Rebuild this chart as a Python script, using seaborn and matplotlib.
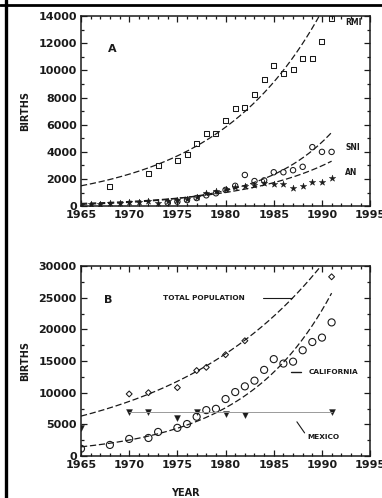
import numpy as np
import pandas as pd
import matplotlib
matplotlib.use("Agg")
import matplotlib.pyplot as plt
import seaborn as sns
from matplotlib.lines import Line2D
from matplotlib.ticker import MultipleLocator

# ---------------- Panel A data ----------------
rmi_years = [1968, 1972, 1973, 1975, 1976, 1977, 1978, 1979, 1980, 1981, 1982,
             1983, 1984, 1985, 1986, 1987, 1988, 1989, 1990, 1991]
rmi_births = [1450, 2400, 3000, 3400, 3800, 4600, 5350, 5350, 6300, 7200, 7300,
              8250, 9300, 10400, 9800, 10050, 10900, 10900, 12100, 13800]

sni_years = [1974, 1975, 1976, 1977, 1978, 1979, 1980, 1981, 1982, 1983, 1984,
             1985, 1986, 1987, 1988, 1989, 1990, 1991]
sni_births = [250, 330, 450, 600, 800, 950, 1200, 1500, 2300, 1850, 1900,
              2500, 2500, 2650, 2900, 4350, 4000, 4000]

an_years = [1965, 1966, 1967, 1968, 1969, 1970, 1971, 1972, 1973, 1974, 1975,
            1976, 1977, 1978, 1979, 1980, 1981, 1982, 1983, 1984, 1985, 1986,
            1987, 1988, 1989, 1990, 1991]
an_births = [80, 150, 180, 220, 260, 300, 320, 380, 200, 400, 450,
             560, 700, 950, 1100, 1300, 1400, 1450, 1550, 1700, 1650, 1620,
             1350, 1500, 1780, 1770, 2100]

# fitted exponential curves (value at 1965, yearly growth rate)
rmi_fit = (1500, 0.0904)
sni_fit = (139, 0.141)
an_fit = (200, 0.108)

# ---------------- Panel B data ----------------
total_years = [1970, 1972, 1975, 1977, 1978, 1980, 1982, 1991]
total_births = [9800, 10000, 10800, 13500, 14000, 16000, 18200, 28300]

cal_years = [1965, 1968, 1970, 1972, 1973, 1975, 1976, 1977, 1978, 1979, 1980,
             1981, 1982, 1983, 1984, 1985, 1986, 1987, 1988, 1989, 1990, 1991]
cal_births = [1150, 1750, 2700, 2850, 3800, 4450, 5050, 6200, 7250, 7450, 9000,
              10100, 11000, 11900, 13600, 15300, 14600, 14900, 16700, 18000, 18700, 21100]

mex_years = [1965, 1970, 1972, 1975, 1977, 1980, 1982, 1991]
mex_births = [4400, 7000, 7000, 6000, 7000, 6700, 6500, 7000]
mex_level = 6950

total_fit = (6300, 0.0627)
cal_fit = (1450, 0.1106)

x_ticks = [1965, 1970, 1975, 1980, 1985, 1990, 1995]
yA_ticks = [0, 2000, 4000, 6000, 8000, 10000, 12000, 14000]
yB_ticks = [0, 5000, 10000, 15000, 20000, 25000, 30000]

# ---------------- style ----------------
sns.set_style("ticks")
plt.rcParams['font.family'] = ['DejaVu Sans']
plt.rcParams['font.weight'] = 'bold'
INK = '#1a1a1a'

fig = plt.figure(figsize=(3.82, 4.98), dpi=100)
axA = fig.add_axes([0.212, 0.586, 0.757, 0.3815])
axB = fig.add_axes([0.212, 0.0843, 0.757, 0.3815])

fit_years = np.linspace(1965, 1991, 200)
dash = (0, (5, 2.2))


def curve(ax, fit, end=1991):
    yrs = fit_years[fit_years <= end]
    vals = fit[0] * np.exp(fit[1] * (yrs - 1965))
    sns.lineplot(x=yrs, y=vals, ax=ax, color=INK, linewidth=0.9,
                 linestyle=dash, sort=False, estimator=None)


def style_axis(ax, yticks, yminor):
    ax.set_xlim(1965, 1995)
    ax.set_ylim(yticks[0], yticks[-1])
    ax.set_xticks(x_ticks)
    ax.set_yticks(yticks)
    ax.xaxis.set_minor_locator(MultipleLocator(1))
    ax.yaxis.set_minor_locator(MultipleLocator(yminor))
    ax.tick_params(which='both', direction='in', top=True, right=True,
                   colors=INK, labelsize=8, width=0.9)
    ax.tick_params(which='major', length=4, pad=3)
    ax.tick_params(which='minor', length=2)
    for lab in ax.get_xticklabels() + ax.get_yticklabels():
        lab.set_fontweight('bold')
    for sp in ax.spines.values():
        sp.set_visible(True)
        sp.set_linewidth(1.1)
        sp.set_color(INK)
    ax.set_xlabel('')
    ax.set_ylabel('BIRTHS', fontsize=7, fontweight='bold', color=INK)
    ax.yaxis.set_label_coords(-0.175, 0.5)


# ---------------- Panel A ----------------
curve(axA, rmi_fit)
curve(axA, sni_fit)
curve(axA, an_fit)
sns.scatterplot(x=rmi_years, y=rmi_births, ax=axA, marker='s', s=13,
                facecolor='none', edgecolor=INK, linewidth=0.75)
sns.scatterplot(x=sni_years, y=sni_births, ax=axA, marker='o', s=15,
                facecolor='none', edgecolor=INK, linewidth=0.75)
sns.scatterplot(x=an_years, y=an_births, ax=axA, marker='*', s=24,
                color=INK, edgecolor=INK, linewidth=0.3)
style_axis(axA, yA_ticks, 1000)
axA.text(1968.2, 11600, 'A', fontsize=8, fontweight='bold', color=INK,
         ha='center', va='center')
axA.text(1992.4, 13500, 'RMI', fontsize=5.5, fontweight='bold', color=INK, va='center')
axA.text(1992.4, 4350, 'SNI', fontsize=5.5, fontweight='bold', color=INK, va='center')
axA.text(1992.4, 2450, 'AN', fontsize=5.5, fontweight='bold', color=INK, va='center')

# ---------------- Panel B ----------------
curve(axB, total_fit)
curve(axB, cal_fit)
sns.lineplot(x=[1970, 1991], y=[mex_level, mex_level], ax=axB, color='#9a9a9a',
             linewidth=0.7)
sns.scatterplot(x=total_years, y=total_births, ax=axB, marker='D', s=9,
                facecolor='none', edgecolor=INK, linewidth=0.75)
sns.scatterplot(x=cal_years, y=cal_births, ax=axB, marker='o', s=26,
                facecolor='none', edgecolor=INK, linewidth=0.8)
sns.scatterplot(x=mex_years, y=mex_births, ax=axB, marker='v', s=18,
                color=INK, edgecolor=INK, linewidth=0.3)
style_axis(axB, yB_ticks, 2500)
axB.set_xlabel('YEAR', fontsize=7, fontweight='bold', color=INK)
axB.xaxis.set_label_coords(0.36, -0.17)
axB.text(1967.8, 24600, 'B', fontsize=8, fontweight='bold', color=INK,
         ha='center', va='center')
axB.text(1973.5, 24900, 'TOTAL POPULATION', fontsize=5.3, fontweight='bold',
         color=INK, va='center')
axB.plot([1983.9, 1986.9], [24900, 24900], color=INK, lw=0.8)
axB.text(1988.6, 13300, 'CALIFORNIA', fontsize=5.3, fontweight='bold',
         color=INK, va='center')
axB.plot([1986.8, 1987.8], [13300, 13300], color=INK, lw=1.0)
axB.text(1988.5, 3000, 'MEXICO', fontsize=5.3, fontweight='bold',
         color=INK, va='center')
axB.plot([1987.4, 1988.2], [5400, 3650], color=INK, lw=0.8)

# scan frame
fig.add_artist(Line2D([0, 1], [1 - 5.3 / 498] * 2, transform=fig.transFigure,
                      color='k', lw=2.0))
fig.add_artist(Line2D([5.7 / 382] * 2, [0, 1], transform=fig.transFigure,
                      color='k', lw=2.4))

fig.savefig('out.png', dpi=100)
